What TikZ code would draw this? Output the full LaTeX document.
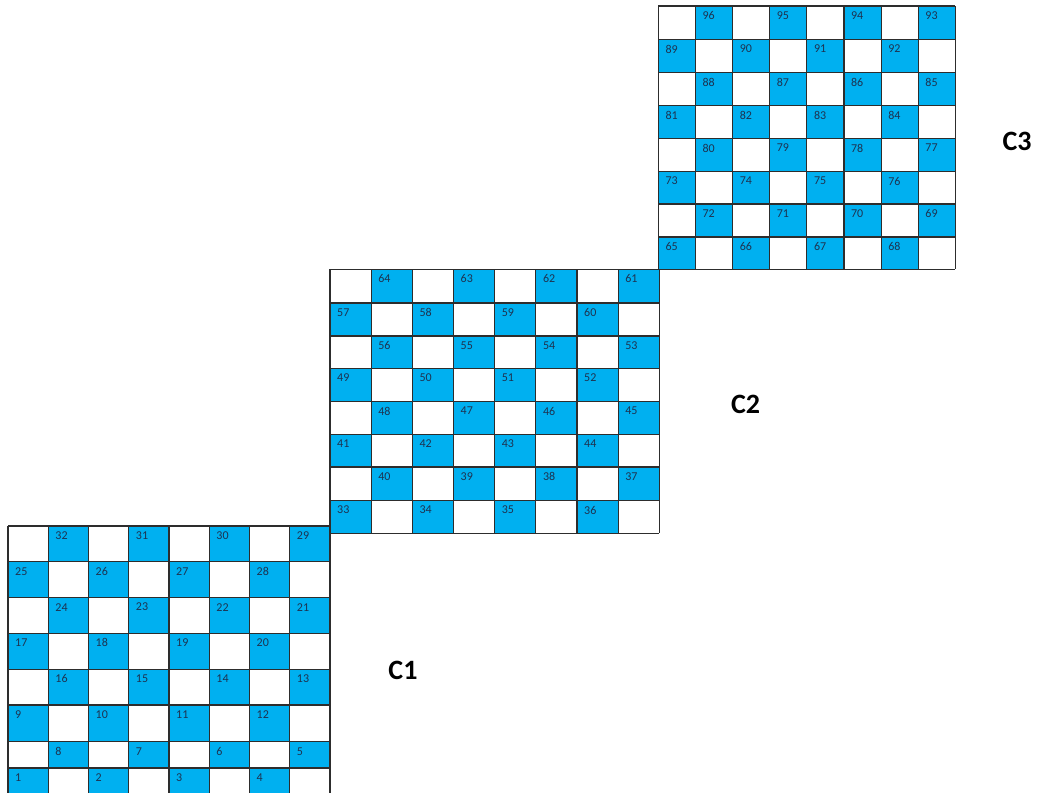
\documentclass[tikz,border=0pt]{standalone}
\usepackage{fontspec}
\setmainfont{Carlito}
\definecolor{cellblue}{RGB}{0,176,240}
\definecolor{numcol}{RGB}{30,50,80}
\definecolor{gridcol}{RGB}{45,45,45}
\tikzset{
  bluecell/.style={fill=cellblue},
  whitecell/.style={fill=white},
  gridline/.style={draw=gridcol, line width=1.1pt},
  numlabel/.style={anchor=west, inner sep=0pt, text=numcol, font=\fontsize{12}{14}\selectfont},
  boardlabel/.style={inner sep=0pt, text=black, font=\fontsize{28}{30}\selectfont\bfseries}
}
\newcommand\drawboard[4]{%
  % #1 x0, #2 column width, #3 row boundaries (9 values), #4 numbering offset
  \foreach \r in {0,...,7}{
    \foreach \c in {0,...,7}{
      \pgfmathsetmacro\xa{#1+#2*\c}
      \pgfmathsetmacro\xb{#1+#2*(\c+1)}
      \pgfmathsetmacro\ya{{#3}[\r]}
      \pgfmathsetmacro\yb{{#3}[\r+1]}
      \pgfmathtruncatemacro\isblue{mod(\r+\c,2)}
      \ifnum\isblue=1
        \fill[bluecell] (\xa,\ya) rectangle (\xb,\yb);
      \else
        \fill[whitecell] (\xa,\ya) rectangle (\xb,\yb);
      \fi
    }
  }
  \pgfmathsetmacro\ytop{{#3}[0]}
  \pgfmathsetmacro\ybot{{#3}[8]}
  \foreach \c in {0,...,8}{
    \pgfmathsetmacro\xa{#1+#2*\c}
    \draw[gridline] (\xa,\ytop) -- (\xa,\ybot);
  }
  \foreach \r in {0,...,8}{
    \pgfmathsetmacro\ya{{#3}[\r]}
    \draw[gridline] (#1,\ya) -- ({#1+8*#2},\ya);
  }
  \foreach \r in {0,...,7}{
    \foreach \c in {0,...,7}{
      \pgfmathtruncatemacro\isblue{mod(\r+\c,2)}
      \ifnum\isblue=1
        \pgfmathsetmacro\xa{#1+#2*\c}
        \pgfmathsetmacro\ya{{#3}[\r]}
        \pgfmathtruncatemacro\k{7-\r}
        \pgfmathtruncatemacro\num{#4+4*\k+1+(mod(\k,2)==0 ? floor(\c/2) : floor((7-\c)/2))}
        \node[numlabel] (n\num) at (\xa+7,\ya+9.5) {\num};
      \fi
    }
  }
}
\begin{document}
\begin{tikzpicture}[x=1pt,y=-1pt]
\useasboundingbox[fill=white] (0,0) rectangle (1037,793);
\begin{scope}
\clip (0,0) rectangle (1037,793);
\drawboard{8}{40.25}{526,561.8,597.6,633.4,669.2,705,741.8,768,797}{0}
\drawboard{330}{41.17}{269.3,303,336,368.5,401.5,434.2,467,500.5,533.3}{32}
\drawboard{658.3}{37.13}{6,39.6,72.7,105.8,138.5,171.5,204,237,269.3}{64}
\end{scope}
\node[boardlabel] (c1) at (403,670) {C1};
\node[boardlabel] (c2) at (745.5,404.5) {C2};
\node[boardlabel] (c3) at (1017,141) {C3};
\end{tikzpicture}
\end{document}
